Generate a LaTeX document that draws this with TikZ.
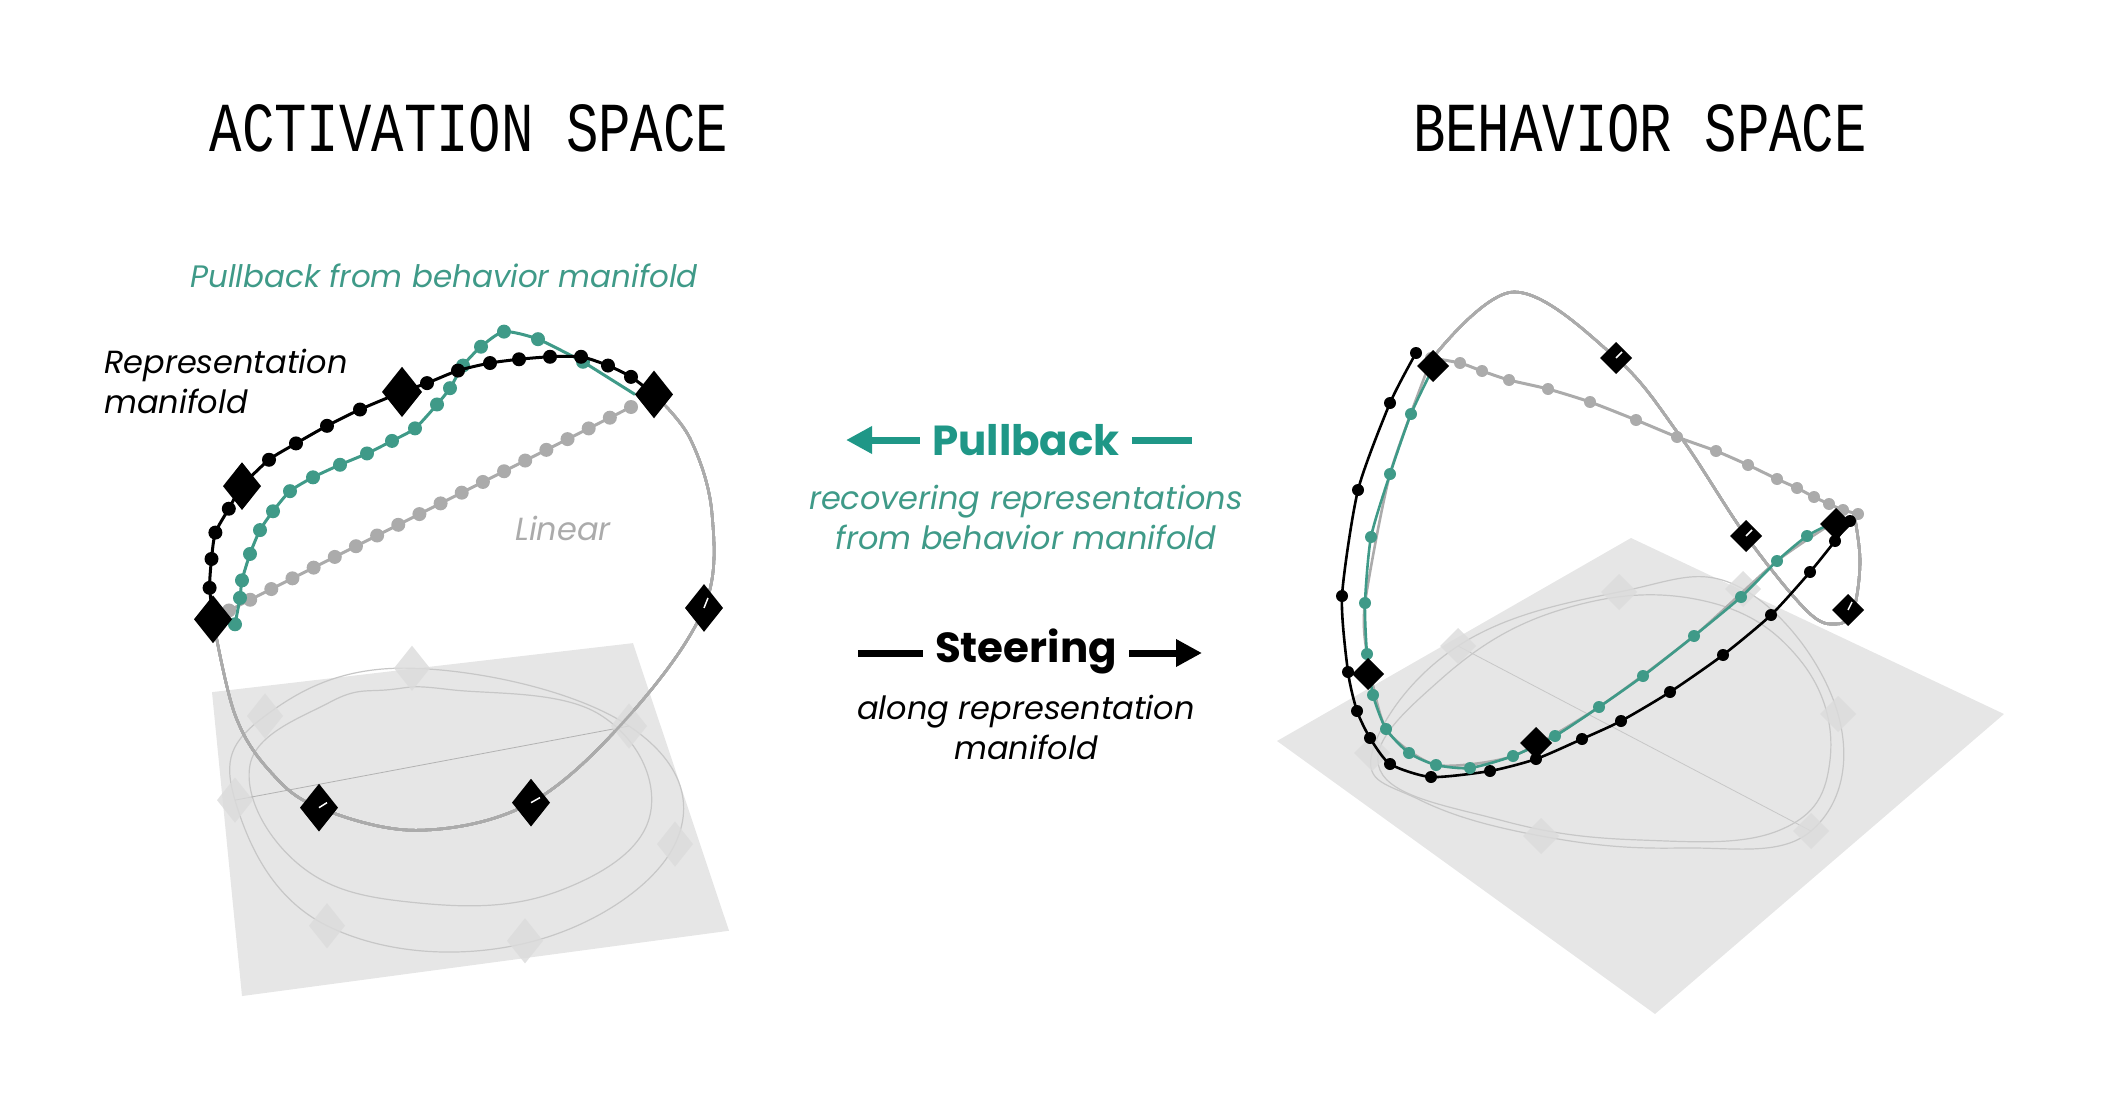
\documentclass[tikz,border=0pt]{standalone}
\usepackage{fontspec}
\setmainfont{Poppins}
\newfontfamily\monof{Liberation Mono}
\usetikzlibrary{arrows.meta,calc}
\definecolor{tealc}{HTML}{3F9A88}
\definecolor{teala}{HTML}{1F9787}
\definecolor{grayc}{HTML}{ABABAB}
\definecolor{planec}{HTML}{E6E6E6}
\begin{document}
\begin{tikzpicture}[x=1pt,y=-1pt,
  title/.style={font=\monof\fontsize{54}{60}\selectfont,inner sep=0},
  itl/.style={font=\itshape\fontsize{32}{40}\selectfont,inner sep=0,align=center},
  big/.style={font=\bfseries\fontsize{42}{48}\selectfont,inner sep=0},
  bdot/.style={circle,fill=black,inner sep=0,minimum size=14},
  tdot/.style={circle,fill=tealc,inner sep=0,minimum size=14},
  gdot/.style={circle,fill=grayc,inner sep=0,minimum size=14},
  faint/.style={draw=black!22,line width=1.2},
  loop/.style={draw=grayc,line width=2.6}]
\useasboundingbox (0,0) rectangle (2101,1097);
\newcommand{\dmd}[4][black]{\fill[#1] (#2,#3) ++(0,-#4) -- ++(#4,#4) -- ++(-#4,#4) -- ++(-#4,-#4) -- cycle;}
\newcommand{\fdmd}[2]{\fill[black!14,opacity=0.8] (#1,#2) ++(0,-18) -- ++(18,18) -- ++(-18,18) -- ++(-18,-18) -- cycle;}
% titles
\node[title] (t1) at (469,128) {\scalebox{1}[1.3]{ACTIVATION SPACE}};
\node[title] (t2) at (1640,128) {\scalebox{1}[1.3]{BEHAVIOR SPACE}};
% ---------------- left figure
\begin{scope}[yshift=64pt,yscale=1.256]
\fill[planec] (212,602) -- (633,563) -- (729,792) -- (242,844) -- cycle;
\draw[faint] plot[smooth cycle,tension=0.7] coordinates {(235,688) (327,788) (525,802) (675,723) (629,629) (412,583) (265,621)};
\draw[faint] plot[smooth cycle,tension=0.7] coordinates {(250,660) (300,740) (420,770) (560,760) (650,700) (600,620) (450,600) (390,600) (330,610)};
\draw[faint,black!30,line width=0.8] (235,688) -- (629,629);
\foreach \x/\y in {412/583,265/621,235/688,327/788,525/800,675/723,629/629} \fdmd{\x}{\y}
\draw[loop] plot[smooth,tension=0.6] coordinates {(213,544) (235,620) (270,665) (319,694) (419,712) (531,690) (630,620) (704,535) (712,460) (690,400) (654,365)};
% gray linear
\draw[grayc,line width=3] (229,537) -- (631,375);
\foreach \i in {0,...,19} \node[gdot] (g\i) at ($(229,537)!\i/19!(631,375)$) {};
% teal
\draw[tealc,line width=3] plot[smooth,tension=0.4] coordinates {(235,548) (240,527) (242,513) (250,492) (260,473) (273,458) (290,442) (313,431) (340,421) (367,412) (392,402) (415,392) (437,373) (450,360) (463,342) (481,327) (504,315) (538,321) (583,339)} -- (635,365);
\foreach \p in {(235,548),(240,527),(242,513),(250,492),(260,473),(273,458),(290,442),(313,431),(340,421),(367,412),(392,402),(415,392),(437,373),(450,360),(463,342),(481,327),(504,315),(538,321),(583,339)} \node[tdot] at \p {};
% black
\draw[black,line width=3] plot[smooth,tension=0.4] coordinates {(213.5,544) (209.6,519) (211.5,496) (215.4,475) (228.8,456) (242,438) (269,417) (296,404) (327,390) (360,377) (402,363) (427,356) (458,346) (490,340) (519,337) (550,335) (581,335) (608,342) (631,351) (654,365)};
\foreach \p in {(209.6,519),(211.5,496),(215.4,475),(228.8,456),(269,417),(296,404),(327,390),(360,377),(427,356),(458,346),(490,340),(519,337),(550,335),(581,335),(608,342),(631,351)} \node[bdot] at \p {};
\dmd{213}{544}{19}\dmd{242}{438}{19}\dmd{402}{363}{20}\dmd{654}{365}{19}\dmd{704}{535}{19}\dmd{319}{694}{19}\dmd{531}{690}{19}
\draw[white,line width=1.5] (319,694) -- (327,690) (531,690) -- (540,686) (704,535) -- (708,527);
\end{scope}
\node[itl,text=tealc,font=\itshape\fontsize{31}{38}\selectfont] (pb) at (444,276) {Pullback from behavior manifold};
\node[itl,anchor=west,align=left] (rm) at (104,381) {Representation\\manifold};
\node[itl,text=grayc] (lin) at (563,528) {Linear};
% ---------------- middle
\node[big,text=teala] (pbk) at (1026,440) {Pullback};
\coordinate (pl1) at (846,440); \coordinate (pr1) at (1192,440);
\draw[teala,line width=7,-{Triangle[length=26,width=26]}] ($(pbk.west)+(-12,0)$) -- (pl1);
\draw[teala,line width=7] ($(pbk.east)+(12,0)$) -- (pr1);
\node[itl,text=tealc] (rec) at (1026,517) {recovering representations\\from behavior manifold};
\node[big] (st) at (1026,651) {Steering};
\coordinate (sl) at (858,653); \coordinate (sr) at (1202,653);
\draw[line width=7] ($(st.west)+(-12,2)$) -- (sl);
\draw[line width=7,-{Triangle[length=26,width=26]}] ($(st.east)+(12,2)$) -- (sr);
\node[itl] (al) at (1026,727) {along representation\\manifold};
% ---------------- right figure
\fill[planec] (1277,741) -- (1631,538) -- (2004,714) -- (1655,1014) -- cycle;
\draw[faint] plot[smooth cycle,tension=0.7] coordinates {(1372,753) (1458,646) (1619,592) (1743,589) (1838,714) (1811,831) (1680,848) (1541,836) (1420,800)};
\draw[faint] plot[smooth cycle,tension=0.7] coordinates {(1380,770) (1440,680) (1560,610) (1700,600) (1800,660) (1830,760) (1780,830) (1640,840) (1500,820)};
\draw[faint,line width=0.8] (1458,646) -- (1811,831);
\foreach \x/\y in {1619/592,1458/646,1838/714,1811/831,1541/836,1743/589,1372/753} \fdmd{\x}{\y}
\draw[loop] plot[smooth,tension=0.6] coordinates {(1431,360) (1514,292) (1616,358) (1680,436) (1746,536) (1807,611) (1836,624) (1853,611) (1860,563) (1855,519)};
\draw[loop] plot[smooth,tension=0.4] coordinates {(1836,521) (1777,561) (1694,636) (1599,707) (1513,756) (1436,765) (1386,729) (1367,654) (1365,603) (1390,474) (1431,360)};
\draw[grayc,line width=3] plot[smooth,tension=0.4] coordinates {(1431,358) (1460,363) (1482,371) (1509,380) (1548,389) (1590,402) (1636,420) (1677,437) (1716,451) (1748,465) (1777,479) (1797,488) (1814,497) (1829,504) (1843,510) (1858,514)};
\foreach \p in {(1431,358),(1460,363),(1482,371),(1509,380),(1548,389),(1590,402),(1636,420),(1677,437),(1716,451),(1748,465),(1777,479),(1797,488),(1814,497),(1829,504),(1843,510),(1858,514)} \node[gdot,minimum size=12] at \p {};
\draw[black,line width=2.6] plot[smooth,tension=0.4] coordinates {(1416,353) (1390,403) (1358,490) (1342,596) (1348,672) (1357,711) (1370,738) (1390,764) (1431,777) (1490,771) (1536,759) (1582,739) (1621,721) (1670,692) (1723,655) (1771,615) (1810,572) (1835,541) (1850,521)};
\foreach \p in {(1416,353),(1390,403),(1358,490),(1342,596),(1348,672),(1357,711),(1370,738),(1390,764),(1431,777),(1490,771),(1536,759),(1582,739),(1621,721),(1670,692),(1723,655),(1771,615),(1810,572),(1835,541),(1850,521)} \node[bdot,minimum size=12] at \p {};
\draw[tealc,line width=2.6] plot[smooth,tension=0.4] coordinates {(1433,368) (1411,414) (1390,474) (1371,537) (1365,603) (1367,654) (1373,695) (1386,729) (1409,753) (1436,765) (1470,768) (1513,756) (1555,736) (1599,707) (1643,676) (1694,636) (1741,597) (1777,561) (1807,536) (1836,521)};
\foreach \p in {(1433,368),(1411,414),(1390,474),(1371,537),(1365,603),(1367,654),(1373,695),(1386,729),(1409,753),(1436,765),(1470,768),(1513,756),(1555,736),(1599,707),(1643,676),(1694,636),(1741,597),(1777,561),(1807,536)} \node[tdot,minimum size=12] at \p {};
\dmd{1433}{366}{16}\dmd{1616}{358}{16}\dmd{1746}{536}{16}\dmd{1836}{524}{16}\dmd{1848}{610}{16}\dmd{1368}{674}{16}\dmd{1536}{743}{16}
\draw[white,line width=1.5] (1616,358) -- (1622,352) (1746,536) -- (1752,530) (1848,610) -- (1852,602);
\end{tikzpicture}
\end{document}
